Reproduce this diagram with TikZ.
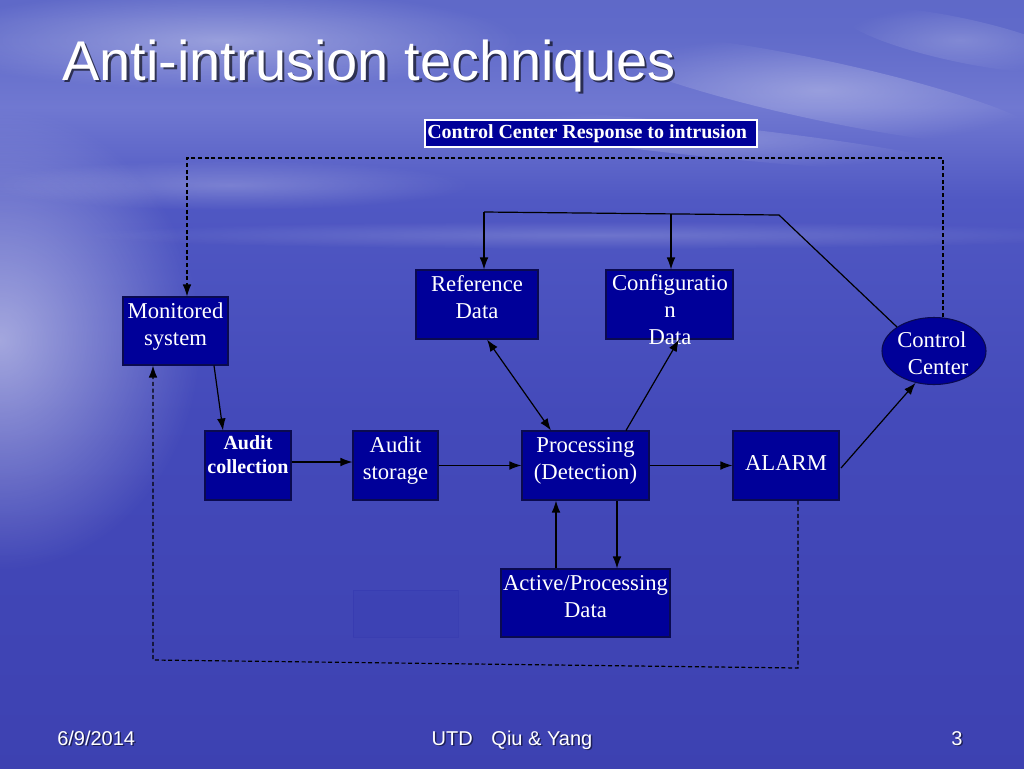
\documentclass[tikz,border=0pt]{standalone}
\usepackage{fontspec}
\setmainfont{Liberation Serif}
\newfontfamily\sansf{Liberation Sans}
\usetikzlibrary{arrows.meta,fadings,shapes.geometric}
\tikzfading[name=softout, inner color=transparent!0, outer color=transparent!100]
\definecolor{boxblue}{RGB}{0,0,153}
\definecolor{boxedge}{RGB}{10,10,80}
\definecolor{bga}{RGB}{55,58,168}
\definecolor{bgb}{RGB}{60,64,176}
\definecolor{bgc}{RGB}{68,74,186}
\definecolor{bgd}{RGB}{80,88,195}
\definecolor{bge}{RGB}{112,120,209}
\definecolor{bgf}{RGB}{96,106,201}
\definecolor{bgg}{RGB}{80,90,192}
\pgfdeclareverticalshading{bgsh}{100bp}{color(0bp)=(bga); color(22bp)=(bgb); color(48bp)=(bgc); color(62bp)=(bgd); color(68bp)=(bge); color(73bp)=(bgf); color(100bp)=(bgg)}
\newcommand\tl[1]{\begin{tabular}{@{}c@{}}#1\end{tabular}}
\begin{document}
\begin{tikzpicture}[x=0.75pt,y=-0.75pt,
  box/.style={draw=boxedge, line width=0.8pt, fill=boxblue, inner sep=0pt},
  txt/.style={text=white, inner sep=0pt, font=\fontsize{17}{20.25}\selectfont},
  btxt/.style={text=white, inner sep=0pt, font=\fontsize{15}{18}\selectfont\bfseries},
  conn/.style={draw=black, line width=0.9pt},
  dline/.style={conn, dash pattern=on 3pt off 2pt},
  tip/.style={-{Latex[length=9pt,width=6.5pt]}},
  tips/.style={{Latex[length=9pt,width=6.5pt]}-{Latex[length=9pt,width=6.5pt]}},
  foot/.style={text=white, inner sep=0pt, font=\sansf\fontsize{15}{18}\selectfont},
  footsh/.style={text=black, opacity=0.5, inner sep=0pt, font=\sansf\fontsize{15}{18}\selectfont},
  cloud/.style={fill=white, path fading=softout}]
\useasboundingbox (0,0) rectangle (1024,768);
% background
\shade[shading=bgsh] (0,0) rectangle (1024,768);
\fill[cloud, opacity=0.5] (0,340) ellipse [x radius=200, y radius=230];
\fill[cloud, opacity=0.35] (220,40) ellipse [x radius=300, y radius=50];
\fill[cloud, opacity=0.3, rotate around={-12:(820,90)}] (820,90) ellipse [x radius=230, y radius=30];
\fill[cloud, opacity=0.2, rotate around={-12:(960,40)}] (960,40) ellipse [x radius=120, y radius=22];
\fill[cloud, opacity=0.22, rotate around={-6:(700,140)}] (700,140) ellipse [x radius=260, y radius=16];
\fill[cloud, opacity=0.22] (230,185) ellipse [x radius=240, y radius=25];
\fill[cloud, opacity=0.18] (600,235) ellipse [x radius=520, y radius=14];
% title and footer
\node[anchor=base west, inner sep=0pt, text=black, opacity=0.6, font=\sansf\fontsize{42}{48}\selectfont] (titlesh) at (64.5,82.5) {Anti-intrusion techniques};
\node[anchor=base west, inner sep=0pt, text=white, font=\sansf\fontsize{42}{48}\selectfont] (title) at (62,80) {Anti-intrusion techniques};
\node[footsh, anchor=base west] (datesh) at (58.5,746.5) {6/9/2014};
\node[foot, anchor=base west] (date) at (57,745) {6/9/2014};
\node[footsh, anchor=base] (authsh) at (513.5,746.5) {UTD\hspace{14pt}Qiu \& Yang};
\node[foot, anchor=base] (auth) at (512,745) {UTD\hspace{14pt}Qiu \& Yang};
\node[footsh, anchor=base] (pagesh) at (958.5,746.5) {3};
\node[foot, anchor=base] (page) at (957,745) {3};
% caption box
\node[draw=white, line width=1pt, fill=boxblue, inner sep=0pt, minimum width=249pt, minimum height=20.25pt] (ccr) at (591,133.5) {};
\node[btxt, anchor=west] (ccrt) at (427,134) {Control Center Response to intrusion};
% boxes
\node[box, minimum width=78.75pt, minimum height=51pt] (mon) at (175.5,331) {};
\node[box, minimum width=91.5pt, minimum height=51.75pt] (ref) at (477,304.5) {};
\node[box, minimum width=95.25pt, minimum height=51.75pt] (conf) at (669.5,304.5) {};
\node[box, minimum width=64.5pt, minimum height=51.75pt] (ac) at (248,465.5) {};
\node[box, minimum width=63.75pt, minimum height=51.75pt] (as) at (395.5,465.5) {};
\node[box, minimum width=95.25pt, minimum height=51.75pt] (proc) at (585.5,465.5) {};
\node[box, minimum width=79.5pt, minimum height=51.75pt] (alarm) at (786,465.5) {};
\node[box, minimum width=126.75pt, minimum height=51pt] (act) at (585.5,603) {};
\node[box, ellipse, minimum width=78pt, minimum height=50.25pt] (cc) at (934,351) {};
\node[draw=boxblue, draw opacity=0.08, fill=boxblue, fill opacity=0.03, inner sep=0pt, minimum width=78.75pt, minimum height=35.25pt] (ghost) at (405.5,613.5) {};
% texts
\node[txt] (mont) at (175.5,326.5) {\tl{Monitored\\system}};
\node[txt] (reft) at (477,299.5) {\tl{Reference\\Data}};
\node[txt] (conft) at (670,312.5) {\tl{Configuratio\\n\\Data}};
\node[btxt] (act_t) at (248,457) {\tl{Audit\\collection}};
\node[txt] (ast) at (395.5,460.5) {\tl{Audit\\storage}};
\node[txt] (proct) at (585.5,460.5) {\tl{Processing\\(Detection)}};
\node[txt] (alarmt) at (786,465) {\tl{ALARM}};
\node[txt] (actt) at (585.5,598.5) {\tl{Active/Processing\\Data}};
\node[txt, anchor=west] (cct) at (897,355.5) {\begin{tabular}{@{}l@{}}Control\\\hspace{8pt}Center\end{tabular}};
% connectors
\coordinate (j1) at (484,212);
\coordinate (j3) at (671,214);
\coordinate (j2) at (779,215);
\coordinate (tr) at (943,158);
\coordinate (tl) at (187,158);
\coordinate (br) at (798,668);
\coordinate (bl) at (153,660);
\draw[dline, tip] (943,0 |- cc.north) -- (tr) -- (tl) -- (187,0 |- mon.north);
\draw[conn] (cc.147) -- (j2) -- (j1);
\draw[conn, tip] (j1) -- (484,0 |- ref.north);
\draw[conn, tip] (j3) -- (671,0 |- conf.north);
\draw[conn, tips] (487,0 |- ref.south) -- (551,0 |- proc.north);
\draw[conn, tip] (626,0 |- proc.north) -- (679,0 |- conf.south);
\draw[conn, tip] (214,0 |- mon.south) -- (223,0 |- ac.north);
\draw[conn, tip] (ac.east |- 0,462) -- (as.west |- 0,462);
\draw[conn, tip] (as.east) -- (proc.west);
\draw[conn, tip] (proc.east) -- (alarm.west);
\draw[conn, tip] (841,468) -- (cc.240);
\draw[conn, tip] (556,0 |- act.north) -- (556,0 |- proc.south);
\draw[conn, tip] (617,0 |- proc.south) -- (617,0 |- act.north);
\draw[dline, tip] (798,0 |- alarm.south) -- (br) -- (bl) -- (153,0 |- mon.south);
\end{tikzpicture}
\end{document}
